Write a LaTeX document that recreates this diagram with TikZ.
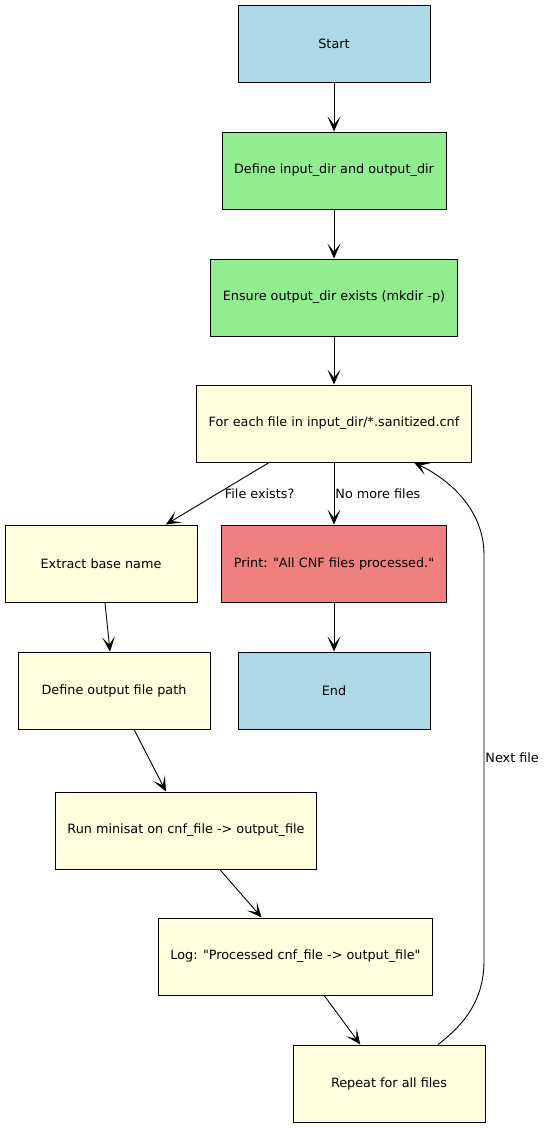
\documentclass[tikz,border=0pt]{standalone}
\usepackage{fontspec}
\setmainfont{DejaVu Sans}
\usetikzlibrary{arrows.meta}
\definecolor{lightblue}{HTML}{ADD8E6}
\definecolor{lightgreen}{HTML}{90EE90}
\definecolor{lightyellow}{HTML}{FFFFE0}
\definecolor{lightcoral}{HTML}{F08080}

\begin{document}
\begin{tikzpicture}[
            x=1pt, y=-1pt,
            box/.style={draw, line width=0.9pt, minimum width=192pt, minimum height=77pt, inner xsep=12pt, font=\fontsize{12.8}{15}\selectfont},
            arrow/.style={-{Stealth[length=15pt, width=13pt, inset=8pt]}, line width=0.9pt},
            edgelabel/.style={font=\fontsize{12.8}{15}\selectfont, anchor=west, inner sep=1pt}
        ]
            \useasboundingbox (0,0) rectangle (545,1128);

            % Setup steps
            \node[box, fill=lightblue] (start) at (334,43.5) {Start};
            \node[box, fill=lightgreen] (definedirs) at (334,170.5) {Define input\_dir and output\_dir};
            \node[box, fill=lightgreen] (ensuredir) at (334,297.5) {Ensure output\_dir exists (mkdir -p)};
            \node[box, fill=lightyellow] (foreach) at (334,423.5) {For each file in input\_dir/*.sanitized.cnf};

            % Loop body
            \node[box, fill=lightyellow] (extract) at (101,563.5) {Extract base name};
            \node[box, fill=lightyellow] (defoutput) at (114,690.5) {Define output file path};
            \node[box, fill=lightyellow] (runsat) at (186,830.5) {Run minisat on cnf\_file -> output\_file};
            \node[box, fill=lightyellow] (logmsg) at (295.5,956.5) {Log: \textquotedbl Processed cnf\_file -> output\_file\textquotedbl};
            \node[box, fill=lightyellow] (repeatall) at (389,1083.5) {Repeat for all files};

            % Finish
            \node[box, fill=lightcoral] (printdone) at (334,563.5) {Print: \textquotedbl All CNF files processed.\textquotedbl};
            \node[box, fill=lightblue] (finish) at (334,690.5) {End};

            % Connections
            \draw[arrow] (start) -- (definedirs);
            \draw[arrow] (definedirs) -- (ensuredir);
            \draw[arrow] (ensuredir) -- (foreach);
            \draw[arrow] (foreach) -- node[edgelabel, xshift=6pt] {File exists?} (extract);
            \draw[arrow] (foreach) -- node[edgelabel] {No more files} (printdone);
            \draw[arrow] (extract) -- (defoutput);
            \draw[arrow] (defoutput) -- (runsat);
            \draw[arrow] (runsat) -- (logmsg);
            \draw[arrow] (logmsg) -- (repeatall);
            \draw[arrow] (printdone) -- (finish);

            % Back to the loop head
            \draw[arrow] ([xshift=49pt]repeatall.north) .. controls (470,1020) and (484,995) .. (484,960)
                -- node[edgelabel] {Next file} (484,555)
                .. controls (484,510) and (450,480) .. ([xshift=80pt]foreach.south);
        \end{tikzpicture}
\end{document}
